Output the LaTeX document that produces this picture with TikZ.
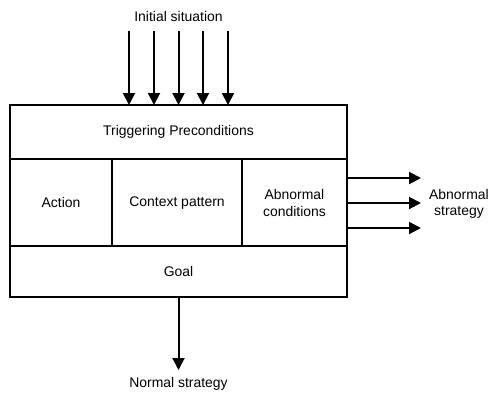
\documentclass[tikz,border=0pt]{standalone}
\usepackage{fontspec}
\setmainfont{Liberation Sans}
\usetikzlibrary{arrows.meta}
\begin{document}
\begin{tikzpicture}[x=1bp,y=-1bp,
  box/.style={line width=2bp},
  arr/.style={line width=2bp,-{Triangle[length=12bp,width=12bp]}},
  lbl/.style={font=\fontsize{14}{16.5}\selectfont, align=center, inner sep=0}]
\useasboundingbox (0,0) rectangle (490,392);
% outer box and dividers
\draw[box] (10,105) rectangle (347,297);
\draw[box] (10,159) -- (347,159);
\draw[box] (10,245.5) -- (347,245.5);
\draw[box] (112,159) -- (112,245.5);
\draw[box] (242,159) -- (242,245.5);
% labels
\node[lbl] (trig) at (178.5,132) {Triggering Preconditions};
\node[lbl] (act) at (61,203) {Action};
\node[lbl] (ctx) at (177,203) {Context pattern};
\node[lbl] (abn) at (294.5,203) {Abnormal\\conditions};
\node[lbl] (goal) at (178.5,271.5) {Goal};
\node[lbl] (init) at (178.5,17) {Initial situation};
\node[lbl] (abs) at (459,204) {Abnormal\\strategy};
\node[lbl] (norm) at (178.5,384) {Normal strategy};
% top arrows
\foreach \x/\n in {129/a,154/b,178.5/c,203/d,228/e}{
  \coordinate (t\n) at (\x,31);
  \coordinate (b\n) at (\x,105);
  \draw[arr] (t\n) -- (b\n);
}
% right arrows
\foreach \y/\n in {178/a,203/b,228/c}{
  \coordinate (rs\n) at (347,\y);
  \coordinate (re\n) at (421,\y);
  \draw[arr] (rs\n) -- (re\n);
}
% bottom arrow
\coordinate (gs) at (178.5,297);
\coordinate (ge) at (178.5,370);
\draw[arr] (gs) -- (ge);
\end{tikzpicture}
\end{document}
